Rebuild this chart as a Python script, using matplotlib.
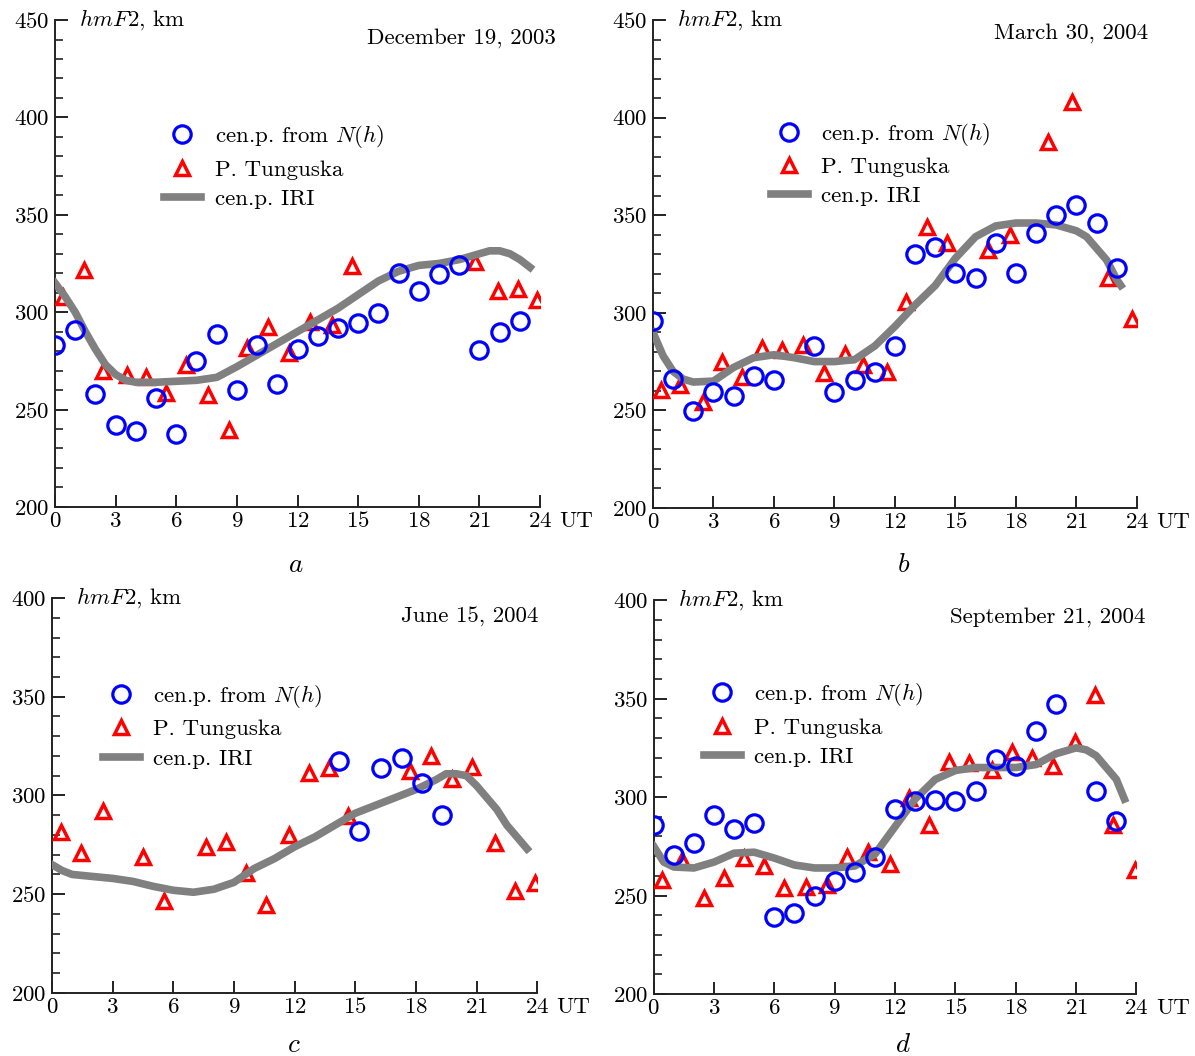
import numpy as np
import matplotlib.pyplot as plt
from matplotlib.ticker import MultipleLocator

plt.rcParams['font.family'] = 'cmr10'
plt.rcParams['mathtext.fontset'] = 'cm'
plt.rcParams['axes.formatter.use_mathtext'] = True

# ---- panel a: December 19, 2003
a_cen_t = list(range(24))
a_cen_h = [283, 291, 258, 242, 239, 256, 237.5, 275, 289, 260, 283, 263, 281, 288, 292, 294.5,
           299.5, 320, 311, 319.5, 324, 280.5, 290, 295.5]
a_tun_t = [0.4, 1.45, 2.4, 3.55, 4.5, 5.5, 6.5, 7.55, 8.6, 9.5, 10.55, 11.6, 12.6, 13.7, 14.7,
           20.8, 21.9, 22.9, 23.85]
a_tun_h = [308, 321.5, 270, 267.5, 266.5, 258.5, 273, 257.5, 239.5, 281.5, 292.5, 279, 295, 293.5,
           323.5, 326, 311, 312, 306]
a_iri_t = [0, 0.5, 1, 1.5, 2, 2.5, 3, 3.5, 4, 5, 6, 7, 8, 9, 10, 11, 12, 13, 14, 15, 16, 17, 18,
           19, 20, 21, 21.5, 22, 22.5, 23, 23.5]
a_iri_h = [315, 308, 300, 290, 281, 273, 268, 265, 264, 264, 264.5, 265, 266.5, 272, 278, 284, 290,
           296, 302, 309, 316, 321, 324, 325, 327, 330, 331.5, 331.5, 330, 327, 323]

# ---- panel b: March 30, 2004
b_cen_t = [0, 1, 2, 3, 4, 5, 6, 8, 9, 10, 11, 12, 13, 14, 15, 16, 17, 18, 19, 20, 21, 22, 23]
b_cen_h = [296, 266, 249.5, 259.5, 257.5, 267.5, 265.5, 283, 259.5, 265.5, 269.5, 283, 330, 333.5,
           320.5, 318, 336, 320.5, 341, 350, 355, 346, 323]
b_tun_t = [0.4, 1.35, 2.5, 3.4, 4.4, 5.4, 6.4, 7.45, 8.5, 9.5, 10.4, 11.6, 12.55, 13.6, 14.6, 16.6,
           17.7, 19.6, 20.8, 22.55, 23.75]
b_tun_h = [260.5, 263, 254.5, 275, 267, 282, 281, 283.5, 269, 279, 273.5, 269.5, 305.5, 344, 336,
           332, 340, 387.5, 408, 318, 297]
b_iri_t = [0, 0.5, 1, 1.5, 2, 3, 4, 5, 6, 7, 8, 9, 10, 11, 12, 13, 14, 15, 16, 17, 18, 19, 20, 21,
           21.5, 22, 22.5, 23, 23.2]
b_iri_h = [290, 278, 270, 266, 264.5, 265, 272, 277, 278.5, 277, 275, 275, 276, 283, 293, 304, 314,
           328, 339, 344.5, 346, 346, 345, 342, 339, 333, 327, 317, 314]

# ---- panel c: June 15, 2004
c_cen_t = [14.2, 15.2, 16.3, 17.3, 18.3, 19.3]
c_cen_h = [317.5, 282, 314, 319, 306.5, 290]
c_tun_t = [0.45, 1.45, 2.5, 4.5, 5.55, 7.6, 8.6, 9.6, 10.6, 11.7, 12.7, 13.7, 14.65, 17.7, 18.75,
           19.8, 20.8, 21.9, 22.9, 23.9]
c_tun_h = [281.5, 271, 292, 269, 246.5, 274, 276.5, 260.5, 244.5, 280, 311.5, 314, 289.5, 312.5,
           320, 308.5, 314.5, 276, 251.5, 255.5]
c_iri_t = [0, 0.5, 1, 2, 3, 4, 5, 6, 7, 8, 9, 10, 11, 12, 13, 14, 15, 16, 17, 18, 19, 19.5, 20,
           20.5, 21, 22, 22.5, 23, 23.5]
c_iri_h = [265, 262, 260, 259, 258, 256.5, 254, 252, 251, 252.5, 256, 263, 268, 274, 279, 285, 291,
           295, 299, 303, 308, 311, 311, 310, 305, 293, 285, 279, 273]

# ---- panel d: September 21, 2004
d_cen_t = list(range(21)) + [22, 23]
d_cen_h = [286, 270.5, 276.5, 291, 284, 287, 239, 241, 250, 257.5, 262, 269.5, 294, 298, 298.5, 298,
           303, 319.5, 316, 333.5, 347.5, 303, 288]
d_tun_t = [0.4, 1.4, 2.5, 3.5, 4.5, 5.5, 6.5, 7.55, 8.6, 9.6, 10.65, 11.75, 12.7, 13.7, 14.7, 15.7,
           16.8, 17.8, 18.8, 19.85, 20.95, 21.95, 22.85, 23.95]
d_tun_h = [258, 268, 249, 259, 269, 265, 254, 254.5, 255.5, 269.5, 272, 266, 299.5, 286, 318, 317.5,
           313.5, 323, 320, 316, 328, 352, 286, 263]
d_iri_t = [0, 0.5, 1, 2, 3, 4, 5, 6, 7, 8, 9, 10, 11, 12, 13, 14, 15, 16, 17, 18, 19, 20, 21, 21.5,
           22, 22.5, 23, 23.4]
d_iri_h = [275, 267, 264.5, 264, 267, 271.5, 272, 269, 265.5, 264, 264, 265, 271, 285, 299, 309,
           313.5, 315, 315, 315, 316.5, 322, 325, 324, 321, 315, 309, 299]

panels = [
    dict(rect=[0.046, 0.520, 0.406, 0.461], ymax=450, date='December 19, 2003', letter='a',
         cen=(a_cen_t, a_cen_h), tun=(a_tun_t, a_tun_h), iri=(a_iri_t, a_iri_h),
         date_xy=(1.033, 0.963), leg=(0.225, 0.70), let_xy=(0.497, -0.119)),
    dict(rect=[0.5464, 0.519, 0.405, 0.462], ymax=450, date='March 30, 2004', letter='b',
         cen=(b_cen_t, b_cen_h), tun=(b_tun_t, b_tun_h), iri=(b_iri_t, b_iri_h),
         date_xy=(1.023, 0.973), leg=(0.244, 0.706), let_xy=(0.517, -0.117)),
    dict(rect=[0.0435, 0.0597, 0.406, 0.374], ymax=400, date='June 15, 2004', letter='c',
         cen=(c_cen_t, c_cen_h), tun=(c_tun_t, c_tun_h), iri=(c_iri_t, c_iri_h),
         date_xy=(1.002, 0.952), leg=(0.105, 0.676), let_xy=(0.499, -0.132)),
    dict(rect=[0.547, 0.0587, 0.404, 0.373], ymax=400, date='September 21, 2004', letter='d',
         cen=(d_cen_t, d_cen_h), tun=(d_tun_t, d_tun_h), iri=(d_iri_t, d_iri_h),
         date_xy=(1.019, 0.957), leg=(0.104, 0.685), let_xy=(0.516, -0.129)),
]

fig = plt.figure(figsize=(11.95, 10.56), dpi=100)
fs = 16.5

for p in panels:
    ax = fig.add_axes(p['rect'])
    ax.plot(p['tun'][0], p['tun'][1], ls='none', marker='^', ms=10, mfc='none', mec='red', mew=2.5,
            label='P. Tunguska', zorder=3)
    ax.plot(p['iri'][0], p['iri'][1], color='#808080', lw=5.5, label='cen.p. IRI', zorder=4)
    ax.plot(p['cen'][0], p['cen'][1], ls='none', marker='o', ms=12.5, mfc='none', mec='blue', mew=2.3,
            label='cen.p. from $N(h)$', zorder=5)
    ax.set_xlim(0, 24)
    ax.set_ylim(200, p['ymax'])
    ax.xaxis.set_major_locator(MultipleLocator(3))
    ax.yaxis.set_major_locator(MultipleLocator(50))
    ax.yaxis.set_minor_locator(MultipleLocator(10))
    for s in ['top', 'right']:
        ax.spines[s].set_visible(False)
    for s in ['left', 'bottom']:
        ax.spines[s].set_linewidth(1.4)
        ax.spines[s].set_color('#222222')
    ax.tick_params(which='major', direction='in', length=9, width=1.4, labelsize=fs, pad=4,
                   color='#222222')
    ax.tick_params(which='minor', direction='in', length=5.5, width=1.2, color='#222222')
    ax.tick_params(axis='x', pad=3)
    ax.patch.set_visible(False)

    ax.text(0.05, 1.0, r'$hmF$2, km', transform=ax.transAxes, fontsize=fs, ha='left', va='center')
    ax.text(p['date_xy'][0], p['date_xy'][1], p['date'], transform=ax.transAxes, fontsize=fs,
            ha='right', va='center')
    ax.annotate('UT', xy=(1, 0), xycoords='axes fraction', xytext=(14, -3),
                textcoords='offset points', ha='left', va='top', fontsize=fs)
    ax.text(p['let_xy'][0], p['let_xy'][1], '$' + p['letter'] + '$', transform=ax.transAxes,
            fontsize=fs + 3, ha='center', va='center')

    h, l = ax.get_legend_handles_labels()
    order = [2, 0, 1]
    ax.legend([h[i] for i in order], [l[i] for i in order], frameon=False, loc='center left',
              bbox_to_anchor=p['leg'], fontsize=fs, handlelength=1.6, handletextpad=0.6,
              labelspacing=0.4, borderpad=0, borderaxespad=0)

fig.savefig('out.png', dpi=100)
